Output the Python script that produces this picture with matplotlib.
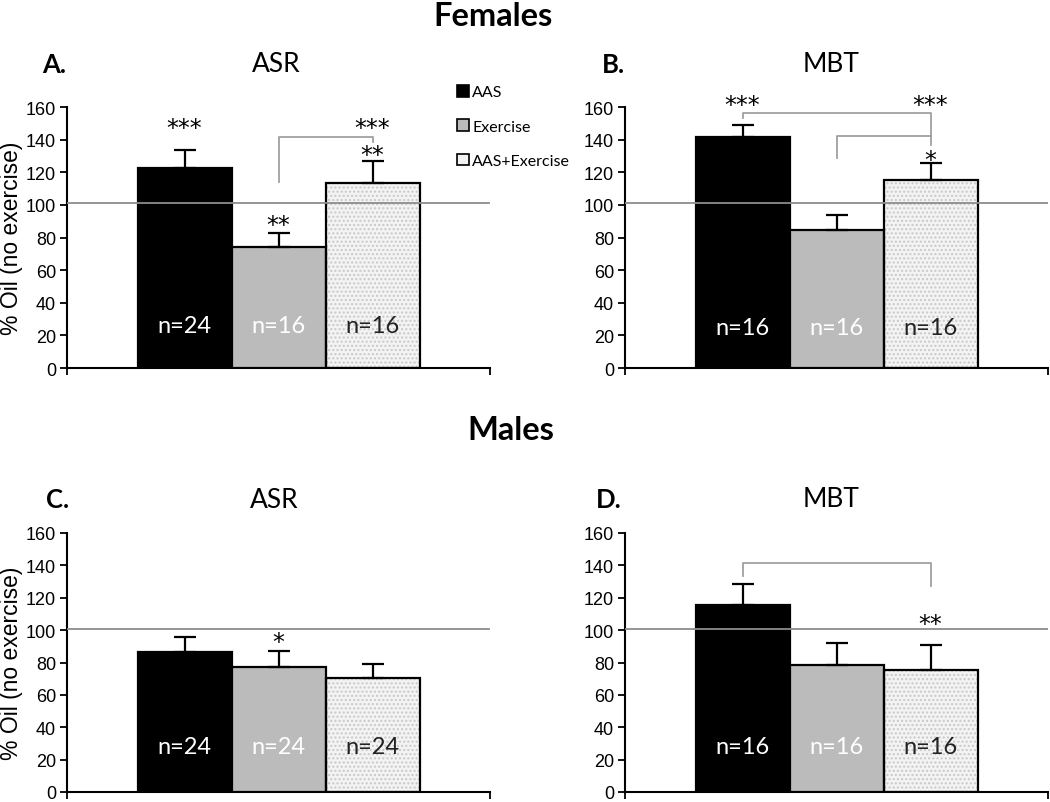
import matplotlib
matplotlib.use("Agg")
import matplotlib.pyplot as plt
from matplotlib.patches import Rectangle

# ---------------- data ----------------
groups = ["AAS", "Exercise", "AAS+Exercise"]
bar_colors = ["#000000", "#bbbbbb", "#f3f3f3"]

a_means = [122.7, 73.9, 113.3]
a_errs = [11.0, 8.9, 13.5]
a_n = ["n=24", "n=16", "n=16"]

b_means = [141.5, 84.7, 115.5]
b_errs = [7.5, 9.2, 10.3]
b_n = ["n=16", "n=16", "n=16"]

c_means = [86.3, 77.3, 70.4]
c_errs = [9.6, 9.8, 8.9]
c_n = ["n=24", "n=24", "n=24"]

d_means = [115.3, 78.5, 75.6]
d_errs = [13.3, 13.3, 15.2]
d_n = ["n=16", "n=16", "n=16"]

yticks = [0, 20, 40, 60, 80, 100, 120, 140, 160]
ref_level = 101

TICK_FONT = ["Liberation Sans", "DejaVu Sans"]
CAL_FONT = ["Lato", "DejaVu Sans"]
STAR_FONT = ["DejaVu Sans"]

fig = plt.figure(figsize=(10.5, 8.03), dpi=100)

W = 423 / 1050
H = 261 / 803
H2 = 259 / 803
axA = fig.add_axes([67 / 1050, 1 - 369 / 803, W, H])
axB = fig.add_axes([625 / 1050, 1 - 369 / 803, W, H])
axC = fig.add_axes([67 / 1050, 1 - 793 / 803, W, H2])
axD = fig.add_axes([625 / 1050, 1 - 793 / 803, W, H2])

x = [0, 1, 2]


def draw_panel(ax, means, errs, nlabels, nlab_y):
    for i in range(3):
        if i == 2:
            ax.bar(x[i], means[i], width=1.0, color=bar_colors[i],
                   edgecolor="#c8c8c8", hatch="....", linewidth=0, zorder=2)
            ax.bar(x[i], means[i], width=1.0, fill=False,
                   edgecolor="black", linewidth=1.6, zorder=3)
        else:
            ax.bar(x[i], means[i], width=1.0, color=bar_colors[i],
                   edgecolor="black", linewidth=1.6, zorder=3)
    ax.errorbar(x, means, yerr=[[0, 0, 0], errs], fmt="none", ecolor="black",
                elinewidth=1.6, capsize=8, capthick=1.6, zorder=4)
    ax.axhline(ref_level, color="#8c8c8c", linewidth=1.3, zorder=5)
    ax.set_xlim(-1.25, 3.25)
    ax.set_ylim(0, 160)
    ax.set_yticks(yticks)
    ax.set_yticklabels([str(t) for t in yticks], family=TICK_FONT, fontsize=13)
    ax.set_xticks([-1.25, 3.25])
    ax.set_xticklabels(["", ""])
    ax.tick_params(axis="both", direction="out", length=5, width=1.3, color="black")
    ax.tick_params(axis="y", pad=3)
    for s in ["top", "right"]:
        ax.spines[s].set_visible(False)
    for s in ["left", "bottom"]:
        ax.spines[s].set_linewidth(1.5)
    for i in range(3):
        col = "white" if i < 2 else "#222222"
        ax.text(x[i], nlab_y, nlabels[i], ha="center", va="center",
                color=col, fontsize=17, family=CAL_FONT, zorder=6)
    return ax


draw_panel(axA, a_means, a_errs, a_n, 26)
draw_panel(axB, b_means, b_errs, b_n, 25)
draw_panel(axC, c_means, c_errs, c_n, 28)
draw_panel(axD, d_means, d_errs, d_n, 28)

# panel letters and titles
panel_info = [
    (axA, "A.", -0.059, "ASR", 0.494, 1.165),
    (axB, "B.", -0.054, "MBT", 0.487, 1.165),
    (axC, "C.", -0.050, "ASR", 0.49, 1.13),
    (axD, "D.", -0.069, "MBT", 0.487, 1.132),
]
for ax, letter, lx, title, tx, ty in panel_info:
    ax.text(lx, ty, letter, transform=ax.transAxes, ha="left", va="center",
            fontsize=18.5, fontweight="bold", family=CAL_FONT)
    ax.text(tx, ty, title, transform=ax.transAxes, ha="center", va="center",
            fontsize=19, family=CAL_FONT)

# y labels
for ax in (axA, axC):
    pos = ax.get_position()
    fig.text(12 / 1050, (pos.y0 + pos.y1) / 2, "% Oil (no exercise)", rotation=90,
             ha="center", va="center", fontsize=16.5, family=TICK_FONT)

# section headings
fig.text(493 / 1050, 1 - 16 / 803, "Females", ha="center", va="center",
         fontsize=23.5, fontweight="bold", family=CAL_FONT)
fig.text(511 / 1050, 1 - 431 / 803, "Males", ha="center", va="center",
         fontsize=23.5, fontweight="bold", family=CAL_FONT)

# significance stars
star_kw = dict(ha="center", va="center", fontsize=17, family=STAR_FONT, zorder=7)
dy = -2.5
axA.text(0, 149.6 + dy, "***", **star_kw)
axA.text(1, 90.3 + dy, "**", **star_kw)
axA.text(2, 133.2 + dy, "**", **star_kw)
axA.text(2, 149.6 + dy, "***", **star_kw)
axB.text(0, 164 + dy, "***", **star_kw)
axB.text(2, 164 + dy, "***", **star_kw)
axB.text(2, 130.2 + dy, "*", **star_kw)
axC.text(1, 95 + dy, "*", **star_kw)
axD.text(2, 106 + dy, "**", **star_kw)

# comparison brackets
br_kw = dict(color="#a0a0a0", linewidth=1.3, zorder=6, clip_on=False)
axA.plot([1, 1, 2, 2], [114, 141.5, 141.5, 138.4], **br_kw)
axB.plot([0, 0, 2, 2], [153.4, 156.4, 156.4, 136.4], **br_kw)
axB.plot([1, 1, 2], [128.6, 142.5, 142.5], **br_kw)
axD.plot([0, 0, 2, 2], [133.6, 141.7, 141.7, 127], **br_kw)

# legend
handles = [
    Rectangle((0, 0), 1, 1, facecolor=bar_colors[0], edgecolor="black", linewidth=1.2),
    Rectangle((0, 0), 1, 1, facecolor=bar_colors[1], edgecolor="black", linewidth=1.2),
    Rectangle((0, 0), 1, 1, facecolor=bar_colors[2], edgecolor="black", linewidth=1.2),
]
fig.legend(handles, groups, loc="upper left",
           bbox_to_anchor=(457 / 1050, 1 - 86 / 803), frameon=False,
           prop={"family": CAL_FONT, "size": 11.5}, handlelength=0.75,
           handleheight=0.75, handletextpad=0.2, labelspacing=1.25,
           borderpad=0, borderaxespad=0)

fig.savefig("out.png", dpi=100)
